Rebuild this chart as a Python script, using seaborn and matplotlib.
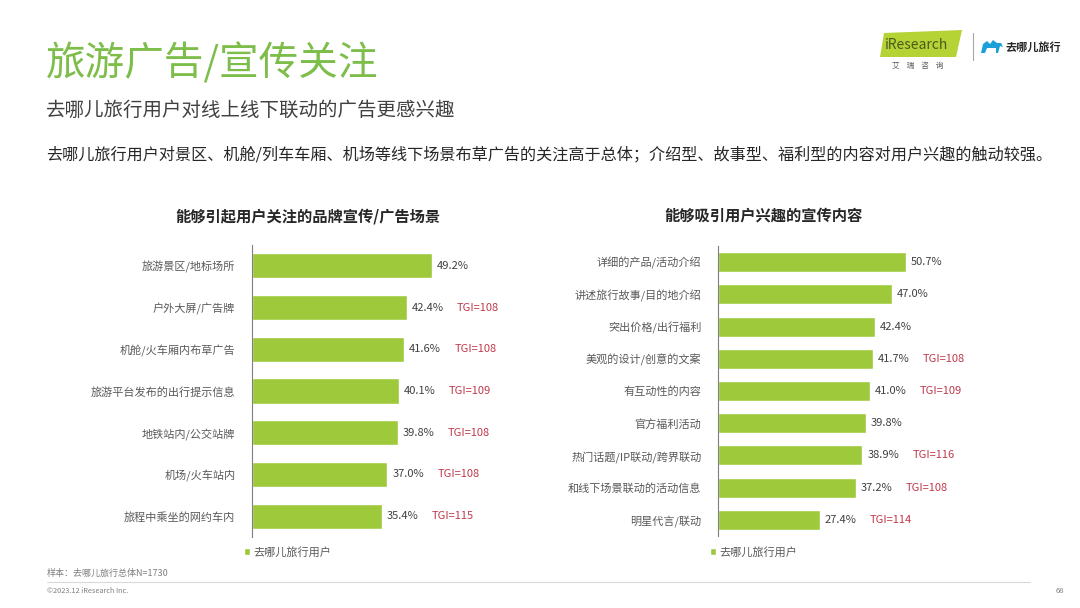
import matplotlib
matplotlib.use("Agg")
import matplotlib.pyplot as plt
import seaborn as sns
import pandas as pd
from matplotlib.patches import Patch, Polygon

# left chart: ad scenes
scene_labels = ["旅游景区/地标场所", "户外大屏/广告牌", "机舱/火车厢内布草广告", "旅游平台发布的出行提示信息",
                "地铁站内/公交站牌", "机场/火车站内", "旅程中乘坐的网约车内"]
scene_values = [49.2, 42.4, 41.6, 40.1, 39.8, 37.0, 35.4]
scene_tgi = [None, 108, 108, 109, 108, 108, 115]

# right chart: content types
content_labels = ["详细的产品/活动介绍", "讲述旅行故事/目的地介绍", "突出价格/出行福利", "美观的设计/创意的文案",
                  "有互动性的内容", "官方福利活动", "热门话题/IP联动/跨界联动", "和线下场景联动的活动信息", "明星代言/联动"]
content_values = [50.7, 47.0, 42.4, 41.7, 41.0, 39.8, 38.9, 37.2, 27.4]
content_tgi = [None, None, None, 108, 109, None, 116, 108, 114]

series_name = "去哪儿旅行用户"

GREEN = "#9dc93b"
TGI_RED = "#c0394b"
TXT = "#404040"

sns.set_theme(style="white")
plt.rcParams["font.family"] = ["Noto Sans CJK SC", "DejaVu Sans"]

fig = plt.figure(figsize=(10.8, 6.08), dpi=100)
W, H = 1080, 608


def px_axes(left, top, width, height):
    return fig.add_axes([left / W, 1 - (top + height) / H, width / W, height / H])


def draw_chart(ax, labels, values, tgi, px_per_pct, width_px, bar_w):
    df = pd.DataFrame({"label": labels, "value": values})
    sns.barplot(data=df, x="value", y="label", orient="h", color=GREEN, width=bar_w,
                saturation=1, ax=ax)
    ax.set_xlim(0, width_px / px_per_pct)
    ax.set_ylim(len(labels) - 0.5, -0.5)
    ax.set_xlabel("")
    ax.set_ylabel("")
    ax.set_xticks([])
    for s in ["top", "right", "bottom"]:
        ax.spines[s].set_visible(False)
    ax.spines["left"].set_color("#7f7f7f")
    ax.spines["left"].set_linewidth(0.8)
    ax.tick_params(axis="y", length=0, pad=12, labelsize=8, labelcolor="#595959")
    for i, (v, t) in enumerate(zip(values, tgi)):
        ax.annotate(f"{v:.1f}%", (v, i), xytext=(3.5, 0), textcoords="offset points",
                    va="center", ha="left", fontsize=8, color=TXT)
        if t is not None:
            ax.annotate(f"TGI={t}", (v, i), xytext=(36, 0), textcoords="offset points",
                        va="center", ha="left", fontsize=8, color=TGI_RED)


ax1 = px_axes(252, 245, 270, 292)
draw_chart(ax1, scene_labels, scene_values, scene_tgi, 3.66, 270, 0.6)
ax2 = px_axes(718, 246, 280, 290)
draw_chart(ax2, content_labels, content_values, content_tgi, 3.71, 280, 0.62)

handle = [Patch(facecolor=GREEN, label=series_name)]
for x in (238, 704):
    fig.legend(handles=handle, loc="center left", bbox_to_anchor=(x / W, 1 - 552 / H),
               frameon=False, fontsize=8, handlelength=0.6, handleheight=0.6,
               handletextpad=0.3, labelcolor="#595959", borderpad=0)

# chart titles
fig.text(308 / W, 1 - 216 / H, "能够引起用户关注的品牌宣传/广告场景", ha="center", va="center",
         fontsize=11, fontweight="bold", color="#262626")
fig.text(763 / W, 1 - 216 / H, "能够吸引用户兴趣的宣传内容", ha="center", va="center",
         fontsize=11, fontweight="bold", color="#262626")

# header
fig.text(46 / W, 1 - 64 / H, "旅游广告/宣传关注", ha="left", va="center", fontsize=28.5, color="#7dbd4a")
fig.text(46 / W, 1 - 110 / H, "去哪儿旅行用户对线上线下联动的广告更感兴趣", ha="left", va="center",
         fontsize=14, color="#404040")
fig.text(46 / W, 1 - 155 / H,
         "去哪儿旅行用户对景区、机舱/列车车厢、机场等线下场景布草广告的关注高于总体；介绍型、故事型、福利型的内容对用户兴趣的触动较强。",
         ha="left", va="center", fontsize=11.6, color="#262626")

# logos
fig.patches.append(Polygon([(884 / W, 1 - 33 / H), (962 / W, 1 - 30 / H), (956 / W, 1 - 57 / H),
                            (880 / W, 1 - 57 / H)], closed=True, transform=fig.transFigure,
                           facecolor="#b5d334", edgecolor="none"))
fig.text(885 / W, 1 - 45 / H, "iResearch", ha="left", va="center", fontsize=10, color="#4a5a20")
fig.text(918 / W, 1 - 66 / H, "艾    瑞    咨    询", ha="center", va="center", fontsize=5.5, color="#595959")
fig.add_artist(plt.Line2D([973 / W, 973 / W], [1 - 33 / H, 1 - 60 / H], color="#a6a6a6", lw=0.8))
# camel mark drawn as a simple shape
camel = [(981, 53), (983, 44), (987, 41), (990, 44), (993, 40), (997, 43), (1001, 43), (1003, 47),
         (1000, 46), (998, 53), (996, 53), (996, 48), (987, 48), (985, 53)]
fig.patches.append(Polygon([(x / W, 1 - y / H) for x, y in camel], closed=True,
                           transform=fig.transFigure, facecolor="#1ba0d8", edgecolor="none"))
fig.text(1005 / W, 1 - 47 / H, "去哪儿旅行", ha="left", va="center", fontsize=8,
         fontweight="bold", color="#262626")

# footer
fig.text(47 / W, 1 - 573 / H, "样本：去哪儿旅行总体N=1730", ha="left", va="center", fontsize=6.5, color="#7f7f7f")
fig.add_artist(plt.Line2D([47 / W, 1030 / W], [1 - 582 / H, 1 - 582 / H], color="#d9d9d9", lw=0.8))
fig.text(47 / W, 1 - 591 / H, "©2023.12 iResearch Inc.", ha="left", va="center", fontsize=5.3, color="#7f7f7f")
fig.text(1060 / W, 1 - 591 / H, "68", ha="center", va="center", fontsize=5.5, color="#7f7f7f")

fig.savefig("out.png", dpi=100, facecolor="white")
